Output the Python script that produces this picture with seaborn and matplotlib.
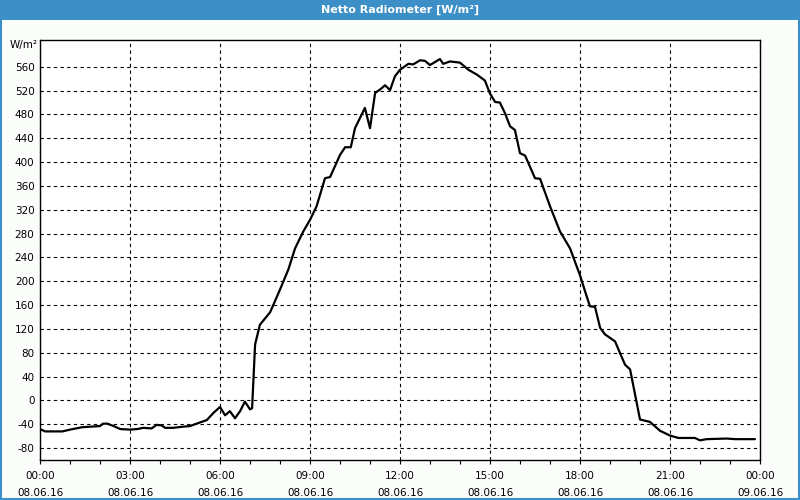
import matplotlib
matplotlib.use('Agg')
import matplotlib.pyplot as plt
import seaborn as sns
import pandas as pd
from matplotlib.patches import Rectangle

# ----------------------------
# data
# ----------------------------
hours = [0.0, 0.17, 0.5, 0.75, 1.0, 1.4, 2.0, 2.1, 2.25, 2.5, 2.67, 3.0, 3.25, 3.44,
         3.72, 3.89, 4.06, 4.17, 4.44, 4.78, 5.0, 5.22, 5.56, 5.78, 6.0, 6.17, 6.33,
         6.5, 6.67, 6.83, 7.0, 7.07, 7.17, 7.33, 7.67, 8.0, 8.28, 8.5, 8.78, 9.0,
         9.22, 9.5, 9.67, 10.0, 10.17, 10.36, 10.5, 10.83, 11.0, 11.17, 11.39, 11.5,
         11.67, 11.83, 12.0, 12.28, 12.44, 12.67, 12.83, 13.0, 13.33, 13.44, 13.67,
         14.0, 14.28, 14.56, 14.83, 15.0, 15.17, 15.33, 15.5, 15.67, 15.83, 16.0,
         16.17, 16.5, 16.67, 17.0, 17.33, 17.67, 18.0, 18.17, 18.33, 18.5, 18.67,
         18.83, 19.17, 19.33, 19.5, 19.67, 20.0, 20.33, 20.67, 21.0, 21.28, 21.83,
         22.0, 22.22, 22.89, 23.17, 23.83]
values = [-48, -52, -52, -52, -49, -45, -43, -39, -39, -44, -48, -49, -48, -46,
          -47, -41, -42, -46, -46, -44, -43, -39, -33, -21, -11, -25, -18,
          -30, -18, -2, -15, -13, 94, 127, 148, 186, 220, 255, 284, 303,
          326, 373, 375, 412, 425, 425, 457, 491, 457, 516, 524, 529,
          521, 544, 555, 565, 564, 571, 570, 563, 573, 565, 569,
          567, 555, 547, 537, 515, 501, 500, 482, 460, 454, 415,
          411, 373, 372, 326, 284, 255, 210, 183, 158, 157, 122,
          111, 99, 80, 60, 52, -32, -36, -51, -59, -63, -63,
          -67, -65, -64, -65, -65]

x_ticks = [0, 3, 6, 9, 12, 15, 18, 21, 24]
x_labels = ['00:00\n08.06.16', '03:00\n08.06.16', '06:00\n08.06.16', '09:00\n08.06.16',
            '12:00\n08.06.16', '15:00\n08.06.16', '18:00\n08.06.16', '21:00\n08.06.16',
            '00:00\n09.06.16']
y_ticks = list(range(-80, 561, 40))

title = 'Netto Radiometer [W/m²]'
unit = 'W/m²'

df = pd.DataFrame({'Stunde': hours, 'Wert': values})

# ----------------------------
# plot
# ----------------------------
sns.set_style('white')
plt.rcParams['font.family'] = ['DejaVu Sans']
plt.rcParams['text.color'] = 'black'
plt.rcParams['xtick.color'] = 'black'
plt.rcParams['ytick.color'] = 'black'
plt.rcParams['axes.labelcolor'] = 'black'

bar_blue = '#3d8fc7'
bg = '#fbfdfb'

fig = plt.figure(figsize=(8, 5), dpi=100, facecolor=bg)
ax = fig.add_axes([0.05, 0.08, 0.90, 0.84])
ax.set_facecolor('white')

sns.lineplot(data=df, x='Stunde', y='Wert', ax=ax, color='black', linewidth=1.6)

ax.set_xlim(0, 24)
ax.set_ylim(-100, 605)
ax.set_xticks(x_ticks)
ax.set_xticklabels(x_labels, fontsize=7.5, linespacing=1.85)
ax.set_xticks(range(0, 25), minor=True)
ax.set_yticks(y_ticks)
ax.set_yticklabels([str(v) for v in y_ticks], fontsize=7.5)
ax.set_xlabel('')
ax.set_ylabel('')

ax.tick_params(axis='x', which='both', direction='out', length=3, width=0.8,
               color='black', labelcolor='black', pad=5, bottom=True)
ax.tick_params(axis='y', length=0, pad=4, labelcolor='black')
ax.grid(True, which='major', color='black', linestyle=(0, (3, 3)), linewidth=0.8)

for s in ax.spines.values():
    s.set_color('black')
    s.set_linewidth(1.0)
    s.set_visible(True)

# title bar + frame
fig.patches.append(Rectangle((0, 1 - 20 / 500), 1, 20 / 500, transform=fig.transFigure,
                             facecolor=bar_blue, edgecolor='none', zorder=0))
fig.patches.append(Rectangle((0.001, 0.002), 0.998, 0.996, transform=fig.transFigure,
                             facecolor='none', edgecolor=bar_blue, linewidth=1.5, zorder=1))
fig.text(0.5, 1 - 10 / 500, title, ha='center', va='center', color='white',
         fontsize=8, fontweight='bold')
fig.text(10 / 800, 1 - 45 / 500, unit, ha='left', va='center', fontsize=7.5, color='black')

fig.savefig('out.png', dpi=100, facecolor=bg)
